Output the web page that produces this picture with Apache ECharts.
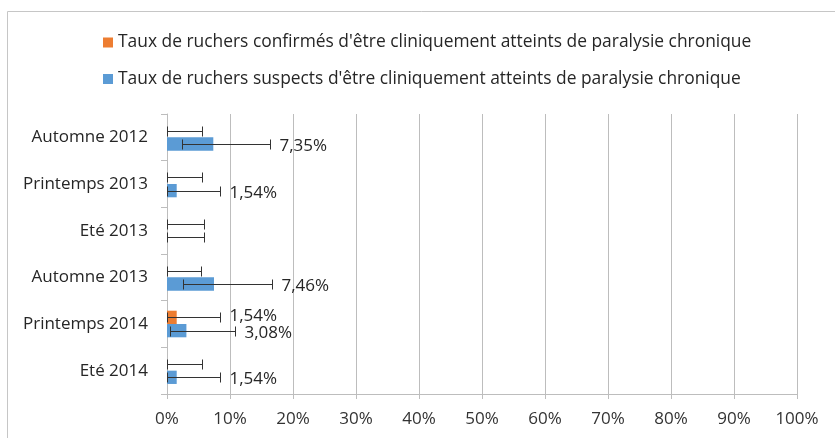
<!DOCTYPE html>
<html><head><meta charset="utf-8">
<script src="https://cdn.jsdelivr.net/npm/echarts@6.0.0/dist/echarts.min.js"></script>
<style>html,body{margin:0;padding:0;background:#fff}#c{width:835px;height:438px}</style>
</head><body><div id="c"></div>
<script>
const categories = ['Automne 2012','Printemps 2013','Eté 2013','Automne 2013','Printemps 2014','Eté 2014'];
const seriesNames = ["Taux de ruchers confirmés d'être cliniquement atteints de paralysie chronique",
                     "Taux de ruchers suspects d'être cliniquement atteints de paralysie chronique"];
const confirmed      = [0, 0, 0, 0, 1.54, 0];
const confirmedLow   = [0, 0, 0, 0, 0.04, 0];
const confirmedHigh  = [5.5, 5.5, 5.8, 5.4, 8.4, 5.6];
const suspected      = [7.35, 1.54, 0, 7.46, 3.08, 1.54];
const suspectedLow   = [2.45, 0.04, 0, 2.5, 0.54, 0.04];
const suspectedHigh  = [16.3, 8.4, 5.8, 16.6, 10.8, 8.4];
const xMin = 0, xMax = 100, xStep = 10;

const FONT = '"Open Sans", "Noto Sans", sans-serif';
const FS = 17;
const BAR_FRAC = 0.285;
const colors = ['#ED7D31', '#5B9BD5'];

function errData(vals, lo, hi) {
  return vals.map((v, i) => [lo[i], hi[i], i, v]);
}
function errRender(side) {
  return function (params, api) {
    const lo = api.value(0), hi = api.value(1), cat = api.value(2), v = api.value(3);
    const band = api.size([0, 1])[1];
    const h = band * BAR_FRAC;
    const c = api.coord([0, cat]);
    const y = Math.round(c[1] + side * h / 2) + 0.5;
    const x0 = Math.round(api.coord([lo, cat])[0]) + 0.5;
    const x1 = Math.round(api.coord([hi, cat])[0]) + 0.5;
    const st = { stroke: '#333333', lineWidth: 1 };
    const ch = [
      { type: 'line', shape: { x1: x0, y1: y, x2: x1, y2: y }, style: st },
      { type: 'line', shape: { x1: x1, y1: y - 5, x2: x1, y2: y + 5 }, style: st },
      { type: 'line', shape: { x1: x0, y1: y - 5, x2: x0, y2: y + 5 }, style: st }
    ];
    if (v > 0) {
      ch.push({ type: 'text', style: {
        text: v.toFixed(2).replace('.', ',') + '%', x: x1 + 9, y: y + side * 1.5,
        verticalAlign: 'middle', align: 'left', fill: '#262626', font: FS + 'px ' + FONT } });
    }
    return { type: 'group', children: ch };
  };
}

const chart = echarts.init(document.getElementById('c'), null, { renderer: 'canvas' });
chart.setOption({
  animation: false,
  backgroundColor: '#fff',
  graphic: [{ type: 'rect', shape: { x: 7.5, y: 11.5, width: 840, height: 440 },
              style: { fill: 'none', stroke: '#C6C6C6', lineWidth: 1 }, z: -1 }],
  legend: {
    data: seriesNames, orient: 'vertical', left: 103, top: 33.5, padding: 0,
    itemWidth: 10, itemHeight: 10, itemGap: 18.5, icon: 'rect',
    textStyle: { fontFamily: FONT, fontSize: 17.4, color: '#262626', lineHeight: 18 }
  },
  grid: { left: 167, right: 38, top: 114, bottom: 44, containLabel: false },
  xAxis: {
    type: 'value', min: xMin, max: xMax, interval: xStep,
    axisLabel: { formatter: '{value}%', fontFamily: FONT, fontSize: FS, color: '#333', margin: 17 },
    axisLine: { show: true, lineStyle: { color: '#BDBDBD' } },
    axisTick: { show: true, length: 5, lineStyle: { color: '#BDBDBD' } },
    splitLine: { show: true, lineStyle: { color: '#BDBDBD' } }
  },
  yAxis: {
    type: 'category', data: categories, inverse: true,
    axisLabel: { fontFamily: FONT, fontSize: FS, color: '#262626', margin: 19 },
    axisLine: { show: true, lineStyle: { color: '#BDBDBD' } },
    axisTick: { show: true, length: 6, alignWithLabel: false, lineStyle: { color: '#BDBDBD' } },
    splitLine: { show: false }
  },
  series: [
    { name: seriesNames[0], type: 'bar', data: confirmed, barWidth: (BAR_FRAC * 100) + '%', barGap: '0%',
      itemStyle: { color: colors[0] } },
    { name: seriesNames[1], type: 'bar', data: suspected, barWidth: (BAR_FRAC * 100) + '%', barGap: '0%',
      itemStyle: { color: colors[1] } },
    { type: 'custom', name: 'errConf', data: errData(confirmed, confirmedLow, confirmedHigh),
      encode: { x: [0, 1], y: 2 }, renderItem: errRender(-1), z: 5 },
    { type: 'custom', name: 'errSusp', data: errData(suspected, suspectedLow, suspectedHigh),
      encode: { x: [0, 1], y: 2 }, renderItem: errRender(1), z: 5 }
  ]
});
</script></body></html>
